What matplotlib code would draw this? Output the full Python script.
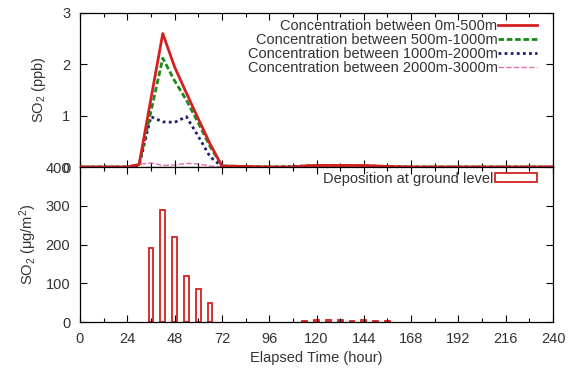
import matplotlib
matplotlib.use("Agg")
from matplotlib import pyplot as plt
from matplotlib.patches import Rectangle

plt.rcParams['font.family'] = ['Liberation Sans', 'DejaVu Sans']
plt.rcParams['mathtext.fontset'] = 'custom'
plt.rcParams['mathtext.rm'] = 'Liberation Sans'
plt.rcParams['mathtext.it'] = 'Liberation Sans'

# concentration series (ppb), sampled at these hours
hours = [0, 24, 30, 36, 42, 48, 54, 60, 66, 72, 96, 108, 114, 120, 132, 144, 156, 168, 240]
conc_0_500 = [0, 0, 0.05, 1.33, 2.6, 1.95, 1.44, 0.94, 0.45, 0.02, 0, 0, 0.02, 0.03, 0.03, 0.03, 0.01, 0, 0]
conc_500_1000 = [0, 0, 0.05, 1.08, 2.12, 1.68, 1.3, 0.86, 0.4, 0.02, 0, 0, 0.02, 0.03, 0.03, 0.02, 0.01, 0, 0]
conc_1000_2000 = [0, 0, 0.03, 0.98, 0.88, 0.87, 0.98, 0.6, 0.2, 0.01, 0, 0.01, 0.02, 0.02, 0.02, 0.02, 0.01, 0, 0]
conc_2000_3000 = [0, 0, 0.05, 0.08, 0.03, 0.04, 0.07, 0.06, 0.02, 0, 0, 0, 0, 0, 0, 0, 0, 0, 0]

labels = ['Concentration between 0m-500m', 'Concentration between 500m-1000m',
          'Concentration between 1000m-2000m', 'Concentration between 2000m-3000m']

# deposition at ground level (ug/m2)
dep_hours = [36, 42, 48, 54, 60, 66, 114, 120, 126, 132, 138, 144, 150, 156]
dep_values = [190, 290, 220, 120, 85, 48, 3, 4, 4, 4, 3, 4, 3, 2]

x_ticks = [0, 24, 48, 72, 96, 120, 144, 168, 192, 216, 240]

fig = plt.figure(figsize=(5.69, 3.72), dpi=100)
W, H = 569, 372
left, right = 80 / W, 553 / W
ax1 = fig.add_axes([left, 1 - 167 / H, right - left, (167 - 13) / H])
ax2 = fig.add_axes([left, 1 - 322 / H, right - left, (322 - 167) / H])

txt = '#333333'

def estilo(ax):
    ax.set_xlim(0, 240)
    ax.set_xticks(x_ticks)
    ax.set_xticks(range(12, 240, 24), minor=True)
    ax.tick_params(which='both', direction='in', top=True, right=True,
                   labelsize=10.5, colors='black', labelcolor=txt)
    ax.tick_params(which='major', length=5, width=0.8, pad=7)
    ax.tick_params(which='minor', length=3, width=0.8)
    for s in ax.spines.values():
        s.set_linewidth(0.9)

estilo(ax1)
estilo(ax2)

ax1.plot(hours, conc_0_500, color='#d42020', lw=2, label=labels[0], zorder=4)
ax1.plot(hours, conc_500_1000, color='#1a8a1a', lw=2, ls=(0, (2, 1)), label=labels[1], zorder=3)
ax1.plot(hours, conc_1000_2000, color='#1c1c70', lw=2, ls=(0, (1, 1.2)), label=labels[2], zorder=2)
ax1.plot(hours, conc_2000_3000, color='#e070b0', lw=1, ls=(0, (4, 1.5)), label=labels[3], zorder=1)
ax1.set_ylim(0, 3)
ax1.set_yticks([0, 1, 2, 3])
ax1.tick_params(labelbottom=False)
ax1.set_ylabel('SO$_2$ (ppb)', fontsize=10.5, color=txt, labelpad=10)
ax1.legend(loc='upper right', bbox_to_anchor=(537 / W, 1 - 19 / H),
           bbox_transform=fig.transFigure, frameon=False, markerfirst=False,
           fontsize=10.5, handlelength=2.7, handletextpad=0.0, labelspacing=0.0,
           borderaxespad=0, borderpad=0, labelcolor=txt)

ax2.bar(dep_hours, dep_values, width=2.4, facecolor='white', edgecolor='#d42020',
        linewidth=1.3, label='Deposition at ground level')
ax2.set_ylim(0, 400)
ax2.set_yticks([0, 100, 200, 300, 400])
ax2.set_ylabel('SO$_2$ ($\\mu$g/m$^2$)', fontsize=10.5, color=txt, labelpad=5)
ax2.set_xlabel('Elapsed Time (hour)', fontsize=10.5, color=txt, labelpad=4)
ax2.legend(handles=[Rectangle((0, 0), 1, 1, facecolor='white', edgecolor='#d42020', lw=1.3)],
           labels=['Deposition at ground level'], loc='upper right',
           bbox_to_anchor=(537 / W, 1 - 172 / H), bbox_transform=fig.transFigure,
           frameon=False, markerfirst=False, fontsize=10.5, handlelength=2.9,
           handleheight=0.55, handletextpad=0.1, borderaxespad=0, borderpad=0,
           labelcolor=txt)

fig.savefig('out.png', dpi=100)
